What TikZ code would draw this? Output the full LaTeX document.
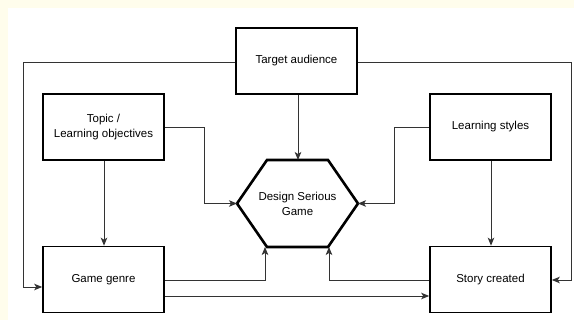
\documentclass[tikz,border=0pt]{standalone}
\usepackage{fontspec}
\setmainfont{Liberation Sans}
\usetikzlibrary{arrows.meta}
\definecolor{bgyellow}{HTML}{FFFDEC}
\definecolor{linegray}{HTML}{333333}
\begin{document}
\begin{tikzpicture}[x=1pt,y=-1pt,
  boxnode/.style={draw=black, line width=1.6pt, minimum width=121pt, minimum height=66pt, inner sep=0pt, font=\fontsize{11.5}{15}\selectfont, align=center, fill=white},
  conn/.style={draw=linegray, line width=0.9pt, -{Stealth[length=8pt,width=6.5pt,inset=2pt]}},
  plain/.style={draw=linegray, line width=0.9pt}]
\useasboundingbox (0,0) rectangle (574,320);
\fill[bgyellow] (0,0) rectangle (574,320);
\fill[white] (8,8) rectangle (574,320);

\node[boxnode] (target) at (296.5,61) {Target audience};
\node[boxnode] (topic) at (103.5,127) {Topic /\\Learning objectives};
\node[boxnode] (styles) at (490.5,127) {Learning styles};
\node[boxnode] (genre) at (103.5,279.5) {Game genre};
\node[boxnode] (story) at (490.5,279.5) {Story created};

\coordinate (hl) at (237,203.5);
\coordinate (htl) at (267,160);
\coordinate (htr) at (328,160);
\coordinate (hr) at (358,203.5);
\coordinate (hbr) at (328,247);
\coordinate (hbl) at (267,247);
\draw[line width=2.6pt, line join=miter, fill=white] (hl) -- (htl) -- (htr) -- (hr) -- (hbr) -- (hbl) -- cycle;
\node[font=\fontsize{11.5}{15}\selectfont, align=center] (design) at (297.5,204) {Design Serious\\Game};

% target audience connections
\draw[conn] (target.south -| 298,0) -- (298,160);
\coordinate (tl) at (23,62);
\draw[conn] (target.west |- tl) -- (tl) -- (23,287) -- (genre.west |- 0,287);
\coordinate (tr) at (571,62);
\draw[conn] (target.east |- tr) -- (tr) -- (571,280) -- (story.east |- 0,280);

% topic
\draw[conn] (topic.east |- 0,127) -- (204,127) -- (204,203.5) -- (hl);
\draw[conn] (topic.south -| 104,0) -- (genre.north -| 104,0);

% learning styles
\draw[conn] (styles.west |- 0,127) -- (394,127) -- (394,203.5) -- (hr);
\draw[conn] (styles.south -| 491,0) -- (story.north -| 491,0);

% game genre
\draw[conn] (genre.east |- 0,280) -- (265,280) -- (265,247);
\draw[conn] (genre.east |- 0,296) -- (story.west |- 0,296);

% story created
\draw[conn] (story.west |- 0,280) -- (329,280) -- (329,247);
\end{tikzpicture}
\end{document}
